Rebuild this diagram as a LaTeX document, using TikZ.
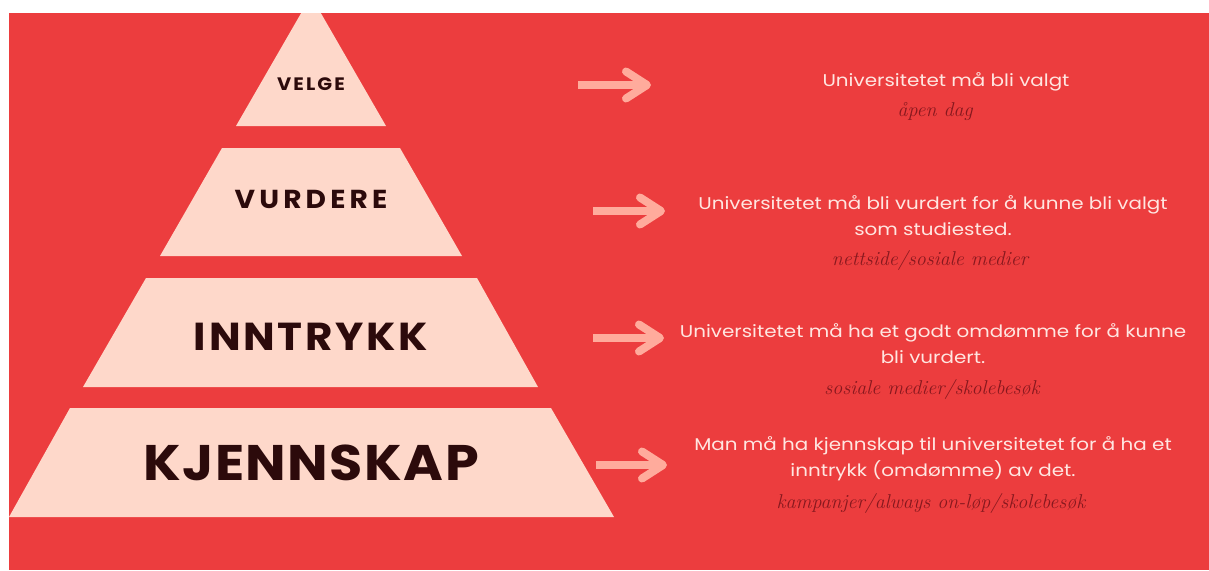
\documentclass[tikz,border=0pt]{standalone}
\usepackage{fontspec}
\setmainfont{Poppins}
\newfontfamily\descfont{Poppins}[FakeStretch=1.17]
\newfontfamily\labelfont{Poppins}[FakeStretch=1.08]
\newfontfamily\handfont{Latin Modern Roman}
\usetikzlibrary{calc}
\definecolor{bgred}{HTML}{EC3D3E}
\definecolor{peach}{HTML}{FED8CA}
\definecolor{labeldark}{HTML}{2C0A0B}
\definecolor{arrowpink}{HTML}{FFAB9C}
\definecolor{desctext}{HTML}{FFE6E1}
\definecolor{scripttext}{HTML}{86181E}
\begin{document}
\begin{tikzpicture}[x=1pt,y=-1pt,
  tier/.style={fill=peach},
  lbl/.style={text=labeldark, inner sep=0pt},
  desc/.style={text=desctext, font=\descfont\fontsize{17}{26}\selectfont, align=center, inner sep=0pt},
  hand/.style={text=scripttext, font=\handfont\itshape\fontsize{20}{22}\selectfont, inner sep=0pt},
  arrowshaft/.style={draw=arrowpink, line width=8pt},
  arrowtip/.style={draw=arrowpink, line width=8pt, line cap=round, line join=round}]
\useasboundingbox (0,0) rectangle (1209,570);
\fill[white] (0,0) rectangle (1209,570);
\fill[bgred] (9,13) rectangle (1209,570);
\begin{scope}
\clip (9,13) rectangle (1209,570);
\fill[tier] (311,-4) -- (386,126) -- (236,126) -- cycle;
\fill[tier] (222,148) -- (400,148) -- (462,256) -- (160,256) -- cycle;
\fill[tier] (146,278) -- (477,278) -- (538,387) -- (83,387) -- cycle;
\fill[tier] (70,408) -- (551,408) -- (614,517) -- (9,517) -- cycle;
\end{scope}
% labels
\node[lbl, font=\labelfont\bfseries\fontsize{18}{18}\selectfont\addfontfeatures{LetterSpace=12}] (velge) at (311,84) {VELGE};
\node[lbl, font=\labelfont\bfseries\fontsize{26}{26}\selectfont\addfontfeatures{LetterSpace=16}] (vurdere) at (311,199) {VURDERE};
\node[lbl, font=\labelfont\bfseries\fontsize{39}{39}\selectfont\addfontfeatures{LetterSpace=7}] (inntrykk) at (311,337) {INNTRYKK};
\node[lbl, font=\labelfont\bfseries\fontsize{50}{50}\selectfont\addfontfeatures{LetterSpace=3}] (kjennskap) at (311,463) {KJENNSKAP};
% descriptions
\node[desc] (d1) at (946,82) {Universitetet må bli valgt};
\node[hand] (h1) at (935,112) {åpen dag};
\node[desc] (d2) at (933,215.5) {Universitetet må bli vurdert for å kunne bli valgt\\som studiested.};
\node[hand] (h2) at (930,260) {nettside/sosiale medier};
\node[desc] (d3) at (933,344) {Universitetet må ha et godt omdømme for å kunne\\bli vurdert.};
\node[hand] (h3) at (932,389) {sosiale medier/skolebesøk};
\node[desc] (d4) at (933,459) {Man må ha kjennskap til universitetet for å ha et\\inntrykk (omdømme) av det.};
\node[hand] (h4) at (931,503) {kampanjer/always on-løp/skolebesøk};
% arrows
\foreach \i/\xs/\xe/\yy in {1/578/647/85, 2/593/661/211, 3/593/660/338, 4/596/663/465}{
  \coordinate (s\i) at (\xs,\yy);
  \coordinate (e\i) at (\xe,\yy);
  \draw[arrowshaft] (s\i) -- ($(e\i)+(-3,0)$);
  \draw[arrowtip] ($(e\i)+(-21,-13.5)$) -- (e\i) -- ($(e\i)+(-21,13.5)$);
}
\end{tikzpicture}
\end{document}
